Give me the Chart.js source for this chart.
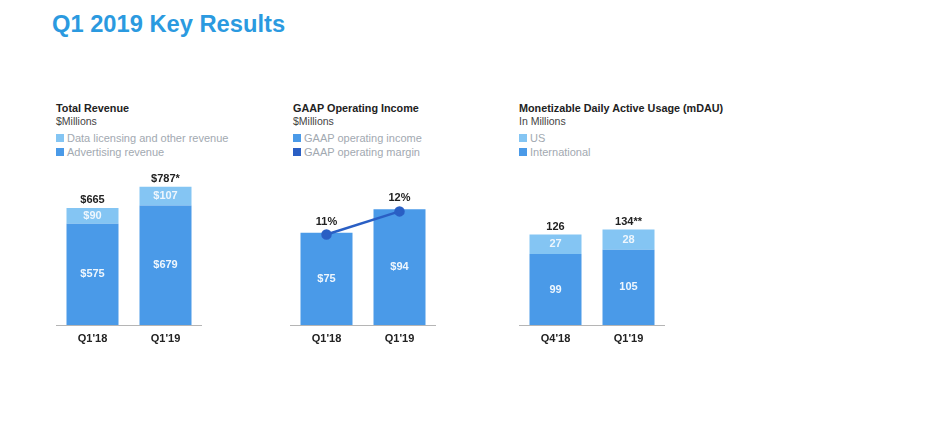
<!DOCTYPE html>
<html>
<head>
<meta charset="utf-8">
<title>Q1 2019 Key Results</title>
<script src="https://cdn.jsdelivr.net/npm/chart.js@4"></script>
<style>
  html, body { margin: 0; padding: 0; background: #fff; }
  body { position: relative; width: 940px; height: 423px; overflow: hidden; font-family: "Liberation Sans", Arial, sans-serif; filter: blur(0.4px); }
  h1 { position: absolute; left: 52px; top: 10px; margin: 0; font-size: 23.7px; line-height: 28px; font-weight: bold; color: #2b9ae0; white-space: nowrap; }
  .head { position: absolute; top: 101px; white-space: nowrap; }
  .head b { display: block; font-size: 10.8px; line-height: 14px; color: #222; }
  .head span { display: block; font-size: 10.5px; line-height: 13px; color: #444; }
  .head div { font-size: 11px; line-height: 14px; color: #a2a9b1; font-weight: 500; }
  .head i { display: inline-block; width: 8px; height: 8px; margin-right: 3px; }
  .head .first { margin-top: 3px; }
  canvas { position: absolute; top: 165px; }
</style>
</head>
<body>
<h1>Q1 2019 Key Results</h1>
<div class="head" id="head1" style="left:56px"></div>
<div class="head" id="head2" style="left:293px"></div>
<div class="head" id="head3" style="left:519px"></div>
<canvas id="revenue" width="146" height="185" style="left:56px;width:146px;height:185px"></canvas>
<canvas id="income" width="146" height="185" style="left:290px;width:146px;height:185px"></canvas>
<canvas id="mdau" width="146" height="185" style="left:519px;width:146px;height:185px"></canvas>
<script>
// --- data ---
const revenueCategories = ["Q1'18", "Q1'19"];
const advertisingRevenue = [575, 679];
const dataLicensingRevenue = [90, 107];
const revenueTotals = ['$665', '$787*'];

const incomeCategories = ["Q1'18", "Q1'19"];
const operatingIncome = [75, 94];
const operatingMargin = [11, 12];

const mdauCategories = ["Q4'18", "Q1'19"];
const mdauInternational = [99, 105];
const mdauUS = [27, 28];
const mdauTotals = ['126', '134**'];

const LIGHT = '#84c5f3';
const MID = '#4a9ae8';
const DARK = '#2a5fc4';
const FONT = '"Liberation Sans", Arial, sans-serif';

// header text + legend for one panel, plain html
const fillHead = (id, title, sub, items) => {
    const el = document.getElementById(id);
    el.innerHTML = `<b>${title}</b><span>${sub}</span>` + items.map((it, i) =>
        `<div class="${i === 0 ? 'first' : ''}"><i style="background:${it[1]}"></i>${it[0]}</div>`).join('');
};
fillHead('head1', 'Total Revenue', '$Millions', [['Data licensing and other revenue', LIGHT], ['Advertising revenue', MID]]);
fillHead('head2', 'GAAP Operating Income', '$Millions', [['GAAP operating income', MID], ['GAAP operating margin', DARK]]);
fillHead('head3', 'Monetizable Daily Active Usage (mDAU)', 'In Millions', [['US', LIGHT], ['International', MID]]);

// draws the white labels inside bars and the black ones above them
const labelPlugin = {
    id: 'labelPlugin',
    afterDatasetsDraw(chart) {
        const ctx = chart.ctx;
        ctx.save();
        ctx.textAlign = 'center';
        ctx.textBaseline = 'middle';
        chart.data.datasets.forEach((ds, i) => {
            const meta = chart.getDatasetMeta(i);
            meta.data.forEach((el, j) => {
                if (ds.type === 'line') {
                    ctx.fillStyle = '#222';
                    ctx.font = 'bold 11px ' + FONT;
                    ctx.fillText(ds.data[j] + '%', el.x, el.y - 13);
                    return;
                }
                ctx.fillStyle = '#eef6fd';
                ctx.font = 'bold 11px ' + FONT;
                ctx.fillText((ds.prefix || '') + ds.data[j], el.x, (el.y + el.base) / 2);
                if (ds.totals) {
                    ctx.fillStyle = '#222';
                    ctx.fillText(ds.totals[j], el.x, el.y - 7.5);
                }
            });
        });
        ctx.restore();
    }
};

// same axes for all three charts, only the y range changes
const makeOptions = (yMax, stacked, extraScales) => ({
    responsive: false,
    animation: false,
    layout: { padding: 0, autoPadding: false },
    plugins: { legend: { display: false }, tooltip: { enabled: false } },
    scales: Object.assign({
        x: {
            stacked: stacked,
            grid: { display: false, drawTicks: false },
            border: { display: true, color: '#b5b5b5', width: 1 },
            ticks: { color: '#222', font: { family: FONT, size: 11, weight: 'bold' }, padding: 7 },
            afterFit: scale => { scale.height = 25; }
        },
        y: { display: false, stacked: stacked, min: 0, max: yMax }
    }, extraScales || {})
});

const barStyle = { barPercentage: 52 / 73, categoryPercentage: 1 };

new Chart(document.getElementById('revenue'), {
    type: 'bar',
    data: {
        labels: revenueCategories,
        datasets: [
            Object.assign({ data: advertisingRevenue, backgroundColor: MID, prefix: '$' }, barStyle),
            Object.assign({ data: dataLicensingRevenue, backgroundColor: LIGHT, prefix: '$', totals: revenueTotals }, barStyle)
        ]
    },
    options: makeOptions(909, true),
    plugins: [labelPlugin]
});

new Chart(document.getElementById('income'), {
    type: 'bar',
    data: {
        labels: incomeCategories,
        datasets: [
            { type: 'line', data: operatingMargin, yAxisID: 'y2', borderColor: DARK, backgroundColor: DARK, borderWidth: 2.5, pointRadius: 4, order: 0 },
            Object.assign({ data: operatingIncome, backgroundColor: MID, prefix: '$', order: 1 }, barStyle)
        ]
    },
    options: makeOptions(130, false, { y2: { display: false, min: 7.1, max: 14 } }),
    plugins: [labelPlugin]
});

new Chart(document.getElementById('mdau'), {
    type: 'bar',
    data: {
        labels: mdauCategories,
        datasets: [
            Object.assign({ data: mdauInternational, backgroundColor: MID }, barStyle),
            Object.assign({ data: mdauUS, backgroundColor: LIGHT, totals: mdauTotals }, barStyle)
        ]
    },
    options: makeOptions(223, true),
    plugins: [labelPlugin]
});
</script>
</body>
</html>
